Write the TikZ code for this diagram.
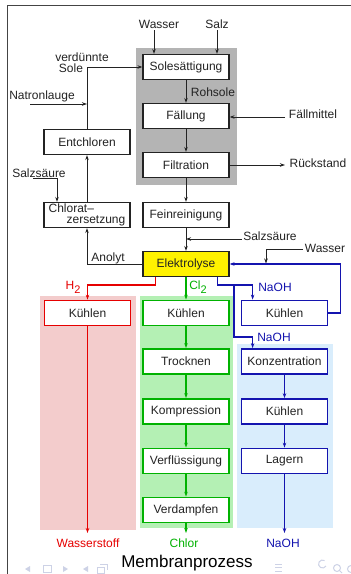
\documentclass[tikz,border=0pt]{standalone}
\usepackage{fontspec}
\setmainfont{Liberation Sans}
\usetikzlibrary{arrows.meta,calc}
\definecolor{cred}{RGB}{230,0,0}
\definecolor{cgreen}{RGB}{0,178,0}
\definecolor{cblue}{RGB}{20,20,175}
\definecolor{bgred}{RGB}{243,204,204}
\definecolor{bggreen}{RGB}{180,240,180}
\definecolor{bgblue}{RGB}{217,237,252}
\definecolor{bggray}{RGB}{180,180,180}
\definecolor{navc}{RGB}{205,210,230}
\definecolor{ink}{RGB}{35,35,35}
\begin{document}
\begin{tikzpicture}[x=1pt,y=-1pt, font=\fontsize{12}{11}\selectfont,
  box/.style={draw=ink, line width=1.2pt, fill=white, minimum width=86pt, minimum height=25pt, inner sep=0pt, text=ink},
  cbox/.style={box, draw=#1, line width=1.8pt},
  lbl/.style={inner sep=0pt, text=ink},
  arr/.style={-{Stealth[length=5pt,width=3.5pt]}, draw=ink, line width=0.9pt},
  carr/.style={-{Stealth[length=5pt,width=3.5pt]}, draw=#1, line width=1.6pt},
  navsym/.style={navc, line width=1pt}
]
\useasboundingbox (0,0) rectangle (351,574);
\fill[white] (0,0) rectangle (351,574);
% backgrounds
\fill[bggray] (136,48) rectangle (237,185);
\fill[bgred] (40,296) rectangle (136,530);
\fill[bggreen] (140,296) rectangle (233,528);
\fill[bgblue] (237,344) rectangle (333,528);
% frame
\draw[ink!85, line width=1pt] (7,574) -- (7,5) -- (351,5);

% boxes
\node[box] (sole) at (186,67) {Solesättigung};
\node[box] (faell) at (186,116) {Fällung};
\node[box] (filt) at (186,165) {Filtration};
\node[box] (fein) at (186,215) {Feinreinigung};
\node[box, fill=yellow] (elek) at (186,264) {Elektrolyse};
\node[box] (entc) at (87,142) {Entchloren};
\node[box, align=left, font=\fontsize{12}{10.5}\selectfont] (chlo) at (87,215) {Chlorat–\\\hspace*{18pt}zersetzung};

\node[cbox=cred] (kr) at (87.5,313) {Kühlen};
\node[cbox=cgreen] (kg) at (186,313) {Kühlen};
\node[cbox=cgreen] (tr) at (186,361.5) {Trocknen};
\node[cbox=cgreen] (ko) at (186,411.5) {Kompression};
\node[cbox=cgreen] (vf) at (186,461) {Verflüssigung};
\node[cbox=cgreen] (vd) at (186,510) {Verdampfen};
\node[cbox=cblue] (kb) at (284.5,313) {Kühlen};
\node[cbox=cblue] (kz) at (284.5,361.5) {Konzentration};
\node[cbox=cblue] (kb2) at (284.5,411.5) {Kühlen};
\node[cbox=cblue] (la) at (284.5,461) {Lagern};

% labels
\node[lbl] (wa) at (159,24) {Wasser};
\node[lbl] (sa) at (217,24) {Salz};
\node[lbl] (vs1) at (82,57) {verdünnte};
\node[lbl] (vs2) at (71,68) {Sole};
\node[lbl] (natr) at (42,96) {Natronlauge};
\node[lbl] (rohs) at (213,92) {Rohsole};
\node[lbl] (fm) at (313,114) {Fällmittel};
\node[lbl] (rs) at (318,163) {Rückstand};
\node[lbl] (hcl1) at (39,173) {Salzsäure};
\node[lbl] (hcl2) at (270,236) {Salzsäure};
\node[lbl] (wa2) at (325,248) {Wasser};
\node[lbl] (ano) at (108,258) {Anolyt};
\node[lbl, text=cred] (h2) at (73,287) {H\raisebox{-4pt}{\fontsize{11}{11}\selectfont 2}};
\node[lbl, text=cgreen] (cl2) at (198,287) {Cl\raisebox{-4pt}{\fontsize{11}{11}\selectfont 2}};
\node[lbl, text=cblue] (naoh1) at (275,287) {NaOH};
\node[lbl, text=cblue] (naoh2) at (274,337) {NaOH};
\node[lbl, text=cred] (ws) at (88,543) {Wasserstoff};
\node[lbl, text=cgreen] (chl) at (184,543) {Chlor};
\node[lbl, text=cblue] (naoh3) at (283,543) {NaOH};
\node[lbl, text=black] (title) at (187,563) {\fontsize{17}{17}\selectfont Membranprozess};

% coordinates
\coordinate (waS) at (154,30);
\coordinate (saS) at (217,30);
\coordinate (natS) at (30,104);
\coordinate (fmS) at (285,117);
\coordinate (rsE) at (285,165);
\coordinate (hcl1S) at (33,178);
\coordinate (hcl2S) at (242,239);
\coordinate (wa2S) at (303,249);
\coordinate (wa2T) at (266,263.5);
\coordinate (bj) at (234,284.5);
\coordinate (rEnd) at (87.5,533);
\coordinate (gEnd) at (186,533);
\coordinate (bEnd) at (284.5,533);

% black connectors
\draw[arr] (waS) -- (waS |- sole.north);
\draw[arr] (saS) -- (saS |- sole.north);
\draw[arr] (entc.north) |- (sole.west);
\draw[arr] (natS) -- (natS -| entc.north);
\draw[arr] (sole.south) -- (faell.north);
\draw[arr] (fmS) -- (fmS -| faell.east);
\draw[arr] (faell.south) -- (filt.north);
\draw[arr] (filt.east) -- (rsE);
\draw[arr] (filt.south) -- (fein.north);
\draw[arr] (hcl1S) -| ($(chlo.north)+(-30,0)$);
\draw[arr] (chlo.north) -- (entc.south);
\draw[arr] (fein.south) -- (elek.north);
\draw[arr] (hcl2S) -- (hcl2S -| elek.north);
\draw[arr] (elek.west) -| (chlo.south);
\draw[arr] (wa2S) -| (wa2T);

% red
\draw[carr=cred] ($(elek.south west)+(13,0)$) -- ++(0,8) -| (kr.north);
\draw[carr=cred] (kr.south) -- (rEnd);
% green
\draw[carr=cgreen] (elek.south) -- (kg.north);
\draw[carr=cgreen] (kg.south) -- (tr.north);
\draw[carr=cgreen] (tr.south) -- (ko.north);
\draw[carr=cgreen] (ko.south) -- (vf.north);
\draw[carr=cgreen] (vf.south) -- (vd.north);
\draw[carr=cgreen] (vd.south) -- (gEnd);
% blue
\draw[carr=cblue] ($(elek.south east)+(-12,0)$) -- ++(0,8) -| ($(kb.north west)+(12,0)$);
\draw[carr=cblue] (bj) -- (234,337) -| ($(kz.north west)+(12,0)$);
\draw[carr=cblue] (kb.east) -- ++(12,0) |- (elek.east);
\draw[carr=cblue] (kz.south) -- (kb2.north);
\draw[carr=cblue] (kb2.south) -- (la.north);
\draw[carr=cblue] (la.south) -- (bEnd);

% navigation symbols
\fill[navc] (25,569) -- (30,566) -- (30,572) -- cycle;
\draw[navsym] (43,565.5) rectangle (51,572);
\fill[navc] (63,566) -- (68,569) -- (63,572) -- cycle;
\fill[navc] (83,569) -- (88,566) -- (88,572) -- cycle;
\draw[navsym] (97,567) rectangle (104,573);
\draw[navsym] (100,564.5) -- (107,564.5) -- (107,570);
\draw[navsym] (275,564) -- (282,564) (275,567.5) -- (282,567.5) (275,571) -- (282,571);
\draw[navsym] (326,566) arc[start angle=30, end angle=300, radius=4];
\draw[navsym] (337,568) circle[radius=3.5] (339.5,570.5) -- (342,573);
\draw[navsym] (351,569) circle[radius=3.5];
\end{tikzpicture}
\end{document}
